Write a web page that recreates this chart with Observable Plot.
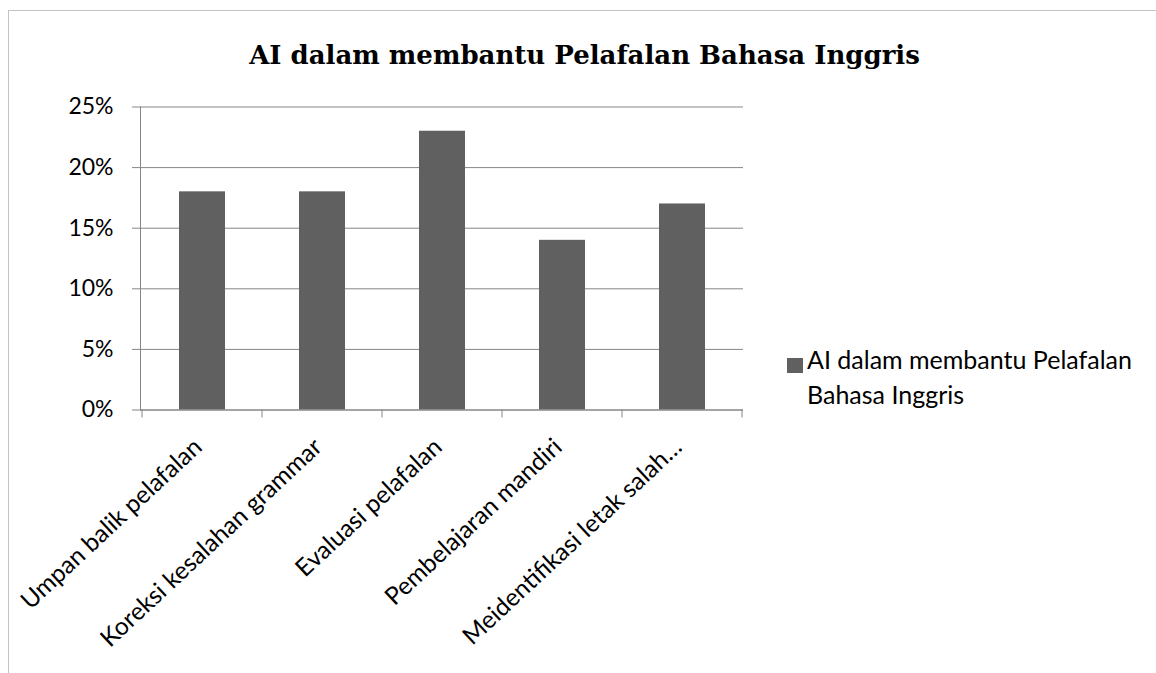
<!DOCTYPE html>
<html>
<head>
<meta charset="utf-8">
<script src="https://cdn.jsdelivr.net/npm/d3@7"></script>
<script src="https://cdn.jsdelivr.net/npm/@observablehq/plot@0.6"></script>
<style>
  html, body { margin: 0; padding: 0; background: #fff; overflow: hidden; }
  #wrap { position: relative; width: 1156px; height: 673px; }
  #border { position: absolute; left: 8px; top: 10px; width: 1300px; height: 800px; border: 1px solid #c3c3c3; box-sizing: border-box; }
  #chart { position: absolute; left: 0; top: 0; }
</style>
</head>
<body>
<div id="wrap"><div id="border"></div><div id="chart"></div></div>
<script>
const title = "AI dalam membantu Pelafalan Bahasa Inggris";
const seriesName = ["AI dalam membantu Pelafalan", "Bahasa Inggris"];
const categories = [
  "Umpan balik pelafalan",
  "Koreksi kesalahan grammar",
  "Evaluasi pelafalan",
  "Pembelajaran mandiri",
  "Meidentifikasi letak salah…"
];
const values = [18, 18, 23, 14, 17];
const yTicks = [0, 5, 10, 15, 20, 25];

const data = categories.map((c, i) => ({category: c, value: values[i]}));

const sans = "Lato, 'Open Sans', sans-serif";
const gray = "#868686";
const barColor = "#606060";

const plot = Plot.plot({
  width: 1156,
  height: 673,
  marginTop: 106.5,
  marginLeft: 140,
  marginRight: 413,
  marginBottom: 263.5,
  style: {background: "transparent", fontFamily: sans, color: "#000", overflow: "visible"},
  x: {domain: categories, padding: 0, axis: null},
  y: {domain: [0, 25], axis: null},
  marks: [
    Plot.gridY(yTicks, {stroke: gray, strokeOpacity: 1, strokeWidth: 1}),
    Plot.barY(data, {x: "category", y: "value", fill: barColor, insetLeft: 37, insetRight: 37}),
    Plot.ruleY([0], {stroke: gray, strokeWidth: 1}),
    Plot.frame({anchor: "left", stroke: gray, strokeWidth: 1}),
    Plot.axisY(yTicks, {
      tickSize: 8, tickPadding: 19, stroke: gray, fontSize: 23, fill: "#000",
      tickFormat: d => d + "%", label: null
    }),
    Plot.text(categories, {
      x: d => d, text: d => d, frameAnchor: "bottom",
      rotate: -43, textAnchor: "end", lineAnchor: "bottom",
      dx: 1, dy: 39, fontSize: 24.5, fill: "#000", fontFamily: sans
    })
  ]
});

document.getElementById("chart").appendChild(plot);

// category boundary tick marks on the x axis, from the library's band scale
const xs = plot.scale("x");
const svg = d3.select(plot);
const yBase = 673 - 263.5;
const bounds = categories.map(c => xs.apply(c)).concat([xs.apply(categories[categories.length - 1]) + xs.bandwidth]);
svg.append("g").selectAll("line").data(bounds).join("line")
  .attr("x1", d => d).attr("x2", d => d)
  .attr("y1", yBase).attr("y2", yBase + 8)
  .attr("stroke", gray).attr("stroke-width", 1);

// title
svg.append("text")
  .attr("x", 584.5).attr("y", 64)
  .attr("text-anchor", "middle")
  .attr("font-family", "'DejaVu Serif', serif")
  .attr("font-weight", "bold")
  .attr("font-size", 26)
  .attr("fill", "#000")
  .text(title);

// legend
const lg = svg.append("g").attr("text-anchor", "start");
lg.append("rect").attr("x", 787).attr("y", 358).attr("width", 16).attr("height", 15).attr("fill", barColor);
lg.selectAll("text.lt").data(seriesName).join("text")
  .attr("class", "lt")
  .attr("x", 807).attr("y", (d, i) => 369 + i * 35)
  .attr("text-anchor", "start")
  .attr("font-family", sans).attr("font-size", 25).attr("fill", "#000")
  .text(d => d);
</script>
</body>
</html>
